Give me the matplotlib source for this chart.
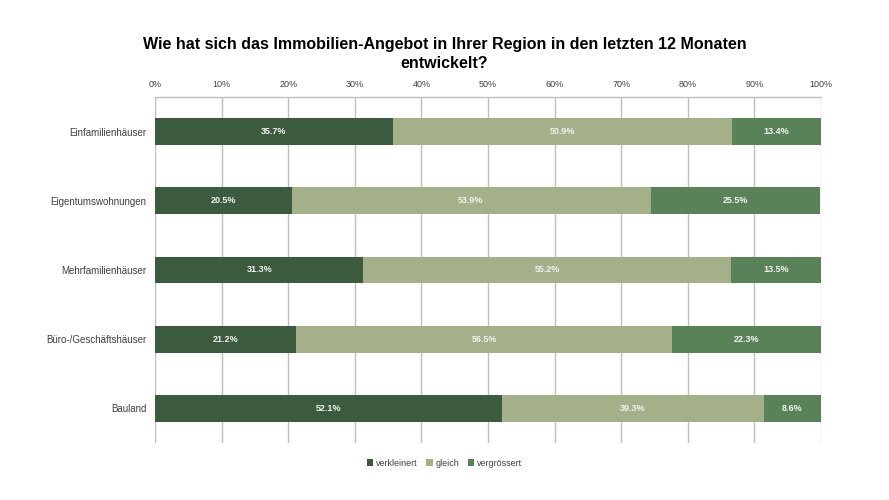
import numpy as np
import matplotlib.pyplot as plt

# data
categories = ['Einfamilienhäuser', 'Eigentumswohnungen', 'Mehrfamilienhäuser',
              'Büro-/Geschäftshäuser', 'Bauland']
verkleinert = [35.7, 20.5, 31.3, 21.2, 52.1]
gleich = [50.9, 53.9, 55.2, 56.5, 39.3]
vergroessert = [13.4, 25.5, 13.5, 22.3, 8.6]
series_names = ['verkleinert', 'gleich', 'vergrössert']
colors = ['#3c5a3e', '#a3b08a', '#5a8259']
xticks = np.arange(0, 101, 10)

plt.rcParams['font.family'] = ['Liberation Sans Narrow', 'Liberation Sans', 'DejaVu Sans']

fig = plt.figure(figsize=(8.89, 5), dpi=100)
ax = fig.add_axes([155 / 889, 57 / 500, 666 / 889, 346 / 500])

# stacked horizontal bars with centred value labels
y = np.arange(len(categories))
left = np.zeros(len(categories))
for name, vals, c in zip(series_names, [verkleinert, gleich, vergroessert], colors):
    vals = np.array(vals)
    ax.barh(y, vals, left=left, height=0.39, color=c, label=name, zorder=3)
    for yi, l, v in zip(y, left, vals):
        ax.text(l + v / 2, yi, f'{v:.1f}%', ha='center', va='center',
                color='#f2f2f2', fontsize=6.5, fontweight='bold', zorder=4)
    left += vals

ax.set_xlim(0, 100)
ax.set_ylim(len(categories) - 0.5, -0.5)
ax.set_yticks(y)
ax.set_yticklabels(categories, fontsize=7, color='#404040')
ax.set_xticks(xticks)
ax.set_xticklabels([f'{t}%' for t in xticks], fontsize=6.5, color='#404040')
ax.xaxis.tick_top()
ax.tick_params(axis='both', length=0, pad=6)

for s in ['left', 'right', 'bottom']:
    ax.spines[s].set_visible(False)
ax.spines['top'].set_color('#bfbfbf')
ax.spines['top'].set_linewidth(1)
ax.grid(axis='x', color='#bfbfbf', linewidth=1, zorder=0)

fig.text(0.5, 0.892, 'Wie hat sich das Immobilien-Angebot in Ihrer Region in den letzten 12 Monaten\nentwickelt?',
         ha='center', va='center', fontsize=11.5, fontweight='bold', linespacing=1.3)

fig.legend(loc='center', bbox_to_anchor=(0.5, 0.074), ncol=3, frameon=False,
           fontsize=6.5, handlelength=0.7, handleheight=0.7, handletextpad=0.3,
           columnspacing=1.0, labelcolor='#404040')

fig.savefig('out.png', dpi=100)
